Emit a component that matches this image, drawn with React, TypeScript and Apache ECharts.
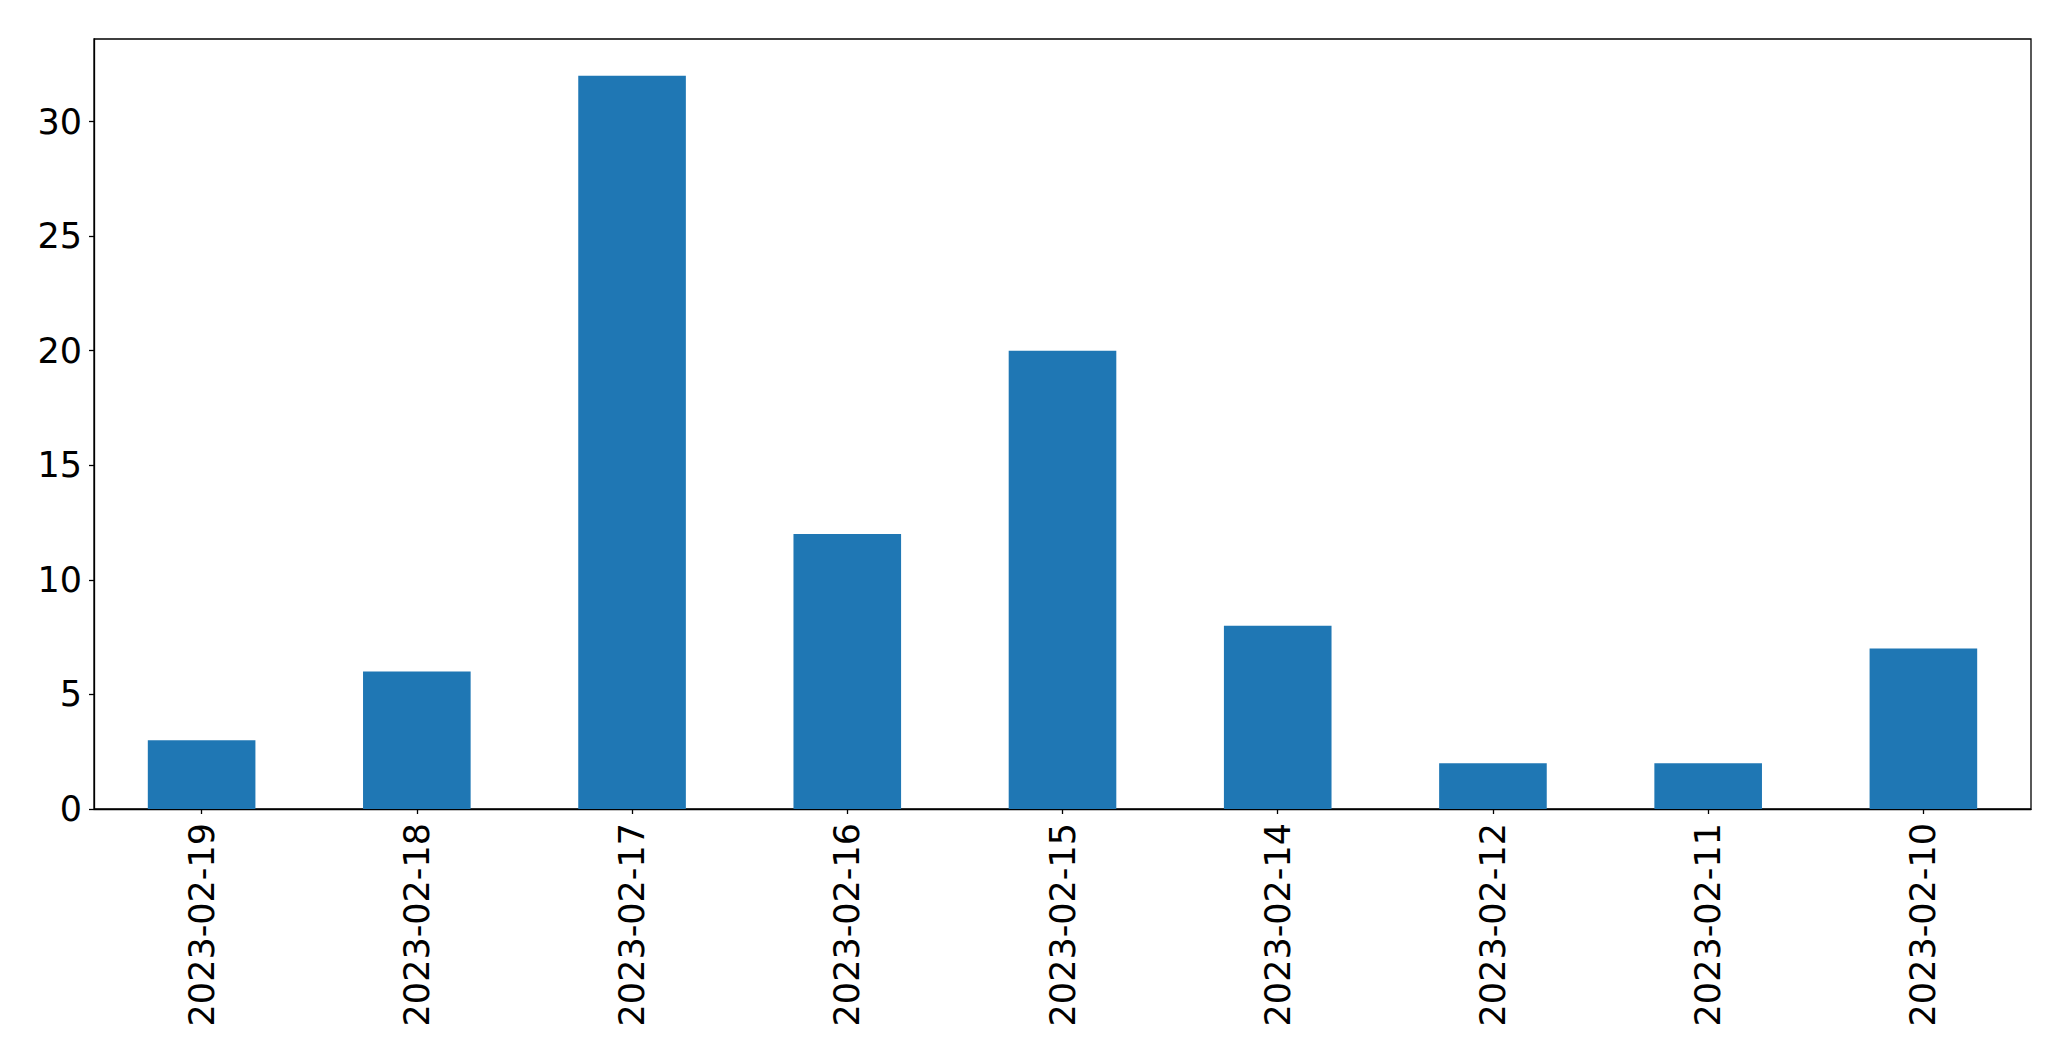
import React, { useEffect, useRef } from "react";
import * as echarts from "echarts";

const categories = [
  "2023-02-19",
  "2023-02-18",
  "2023-02-17",
  "2023-02-16",
  "2023-02-15",
  "2023-02-14",
  "2023-02-12",
  "2023-02-11",
  "2023-02-10",
];
const counts = [3, 6, 32, 12, 20, 8, 2, 2, 7];
const yTicks = [0, 5, 10, 15, 20, 25, 30];
const yMax = 33.6;

export default function App() {
  const ref = useRef<HTMLDivElement>(null);
  useEffect(() => {
    if (!ref.current) return;
    const chart = echarts.init(ref.current, undefined, { renderer: "svg" });
    const font = "DejaVu Sans";
    chart.setOption({
      animation: false,
      backgroundColor: "#ffffff",
      grid: {
        left: 94,
        top: 39,
        width: 1937,
        height: 770,
        show: true,
        borderColor: "#000000",
        borderWidth: 1.3,
        containLabel: false,
      },
      xAxis: {
        type: "category",
        data: categories,
        axisLine: { show: true, lineStyle: { color: "#000000", width: 1.3 } },
        axisTick: { show: true, alignWithLabel: true, length: 5, lineStyle: { color: "#000000", width: 1.3 } },
        axisLabel: {
          rotate: 90,
          interval: 0,
          margin: 14,
          color: "#000000",
          fontFamily: font,
          fontSize: 35,
        },
        splitLine: { show: false },
      },
      yAxis: {
        type: "value",
        min: 0,
        max: yMax,
        interval: 5,
        axisLine: { show: true, lineStyle: { color: "#000000", width: 1.3 } },
        axisTick: {
          show: true,
          length: 5,
          customValues: yTicks,
          lineStyle: { color: "#000000", width: 1.3 },
        },
        axisLabel: {
          customValues: yTicks,
          margin: 12,
          color: "#000000",
          fontFamily: font,
          fontSize: 35,
        },
        splitLine: { show: false },
      },
      series: [
        {
          type: "bar",
          data: counts,
          barWidth: "50%",
          itemStyle: { color: "#1f77b4" },
        },
      ],
    });
    return () => chart.dispose();
  }, []);
  return (
    <div
      ref={ref}
      style={{ position: "fixed", left: 0, top: 0, width: 2071, height: 1061 }}
    />
  );
}
